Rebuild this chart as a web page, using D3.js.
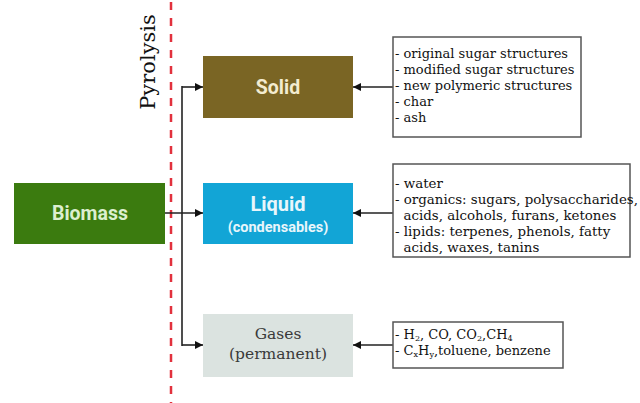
<!DOCTYPE html>
<html>
<head>
<meta charset="utf-8">
<script src="https://cdn.jsdelivr.net/npm/d3@7"></script>
<style>
  html, body { margin: 0; padding: 0; background: #fff; }
  svg { display: block; }
</style>
</head>
<body>
<div id="chart"></div>
<script>
// phases coming out of pyrolysis
var phases = ['Solid', 'Liquid', 'Gases'];
var phaseSubLabels = ['', '(condensables)', '(permanent)'];
var phaseColors = ['#7a6524', '#12a5d6', '#dbe3e0'];
var phaseTextColors = ['#f3ecd0', '#e8f6fb', '#3a3a3a'];

// product lists for each phase
var solidItems = ['- original sugar structures', '- modified sugar structures', '- new polymeric structures', '- char', '- ash'];
var liquidItems = ['- water', '- organics: sugars, polysaccharides,', '  acids, alcohols, furans, ketones', '- lipids: terpenes, phenols, fatty', '  acids, waxes, tanins'];
var gasItems = ['- H|2|, CO, CO|2|,CH|4|', '- C|x|H|y|,toluene, benzene'];

var sourceLabel = 'Biomass';
var processLabel = 'Pyrolysis';

var width = 640, height = 403;

var svg = d3.select('#chart').append('svg')
  .attr('width', width)
  .attr('height', height);

var defs = svg.append('defs');
defs.append('marker')
  .attr('id', 'arrow')
  .attr('viewBox', '0 0 10 10')
  .attr('refX', 10).attr('refY', 5)
  .attr('markerWidth', 9).attr('markerHeight', 8)
  .attr('markerUnits', 'userSpaceOnUse')
  .attr('orient', 'auto')
  .append('path')
  .attr('d', 'M0,0 L10,5 L0,10 Z')
  .attr('fill', '#111');

// layout (hardcoded from the drawing)
var boxX = 203, boxW = 150;
var phaseBoxes = [
  { y: 56, h: 62, arrowY: 87 },
  { y: 183, h: 61, arrowY: 213 },
  { y: 314, h: 63, arrowY: 345 }
];
var listBoxes = [
  { x: 393, y: 37, w: 188, h: 100, items: solidItems, firstLine: 58, size: 13 },
  { x: 393, y: 164, w: 237, h: 93, items: liquidItems, firstLine: 188, size: 13.4 },
  { x: 393, y: 322, w: 170, h: 46, items: gasItems, firstLine: 339, size: 13 }
];
var lineGap = 16;
var connectorX = 182;
var dashX = 171;

// pyrolysis dashed line
svg.append('line')
  .attr('x1', dashX).attr('x2', dashX)
  .attr('y1', 2).attr('y2', height)
  .attr('stroke', '#e2313d')
  .attr('stroke-width', 2.5)
  .attr('stroke-dasharray', '8,8');

svg.append('text')
  .attr('transform', 'translate(155,62) rotate(-90)')
  .attr('text-anchor', 'middle')
  .attr('font-family', 'DejaVu Serif')
  .attr('font-size', 21)
  .attr('fill', '#111')
  .text(processLabel);

// biomass box
svg.append('rect')
  .attr('x', 14).attr('y', 183)
  .attr('width', 151).attr('height', 61)
  .attr('fill', '#3b7b0f');
svg.append('text')
  .attr('x', 90).attr('y', 220)
  .attr('text-anchor', 'middle')
  .attr('font-family', 'Roboto, sans-serif')
  .attr('font-weight', 'bold')
  .attr('font-size', 19.5)
  .attr('fill', '#dcefcf')
  .text(sourceLabel);

// vertical connector
svg.append('line')
  .attr('x1', connectorX).attr('x2', connectorX)
  .attr('y1', phaseBoxes[0].arrowY - 1).attr('y2', phaseBoxes[2].arrowY + 1)
  .attr('stroke', '#222').attr('stroke-width', 1.6);

// biomass -> liquid
svg.append('line')
  .attr('x1', 165).attr('x2', boxX)
  .attr('y1', phaseBoxes[1].arrowY).attr('y2', phaseBoxes[1].arrowY)
  .attr('stroke', '#222').attr('stroke-width', 1.6)
  .attr('marker-end', 'url(#arrow)');

// connector -> solid, gases
[0, 2].forEach(function (i) {
  svg.append('line')
    .attr('x1', connectorX).attr('x2', boxX)
    .attr('y1', phaseBoxes[i].arrowY).attr('y2', phaseBoxes[i].arrowY)
    .attr('stroke', '#222').attr('stroke-width', 1.6)
    .attr('marker-end', 'url(#arrow)');
});

// phase boxes
var phaseG = svg.selectAll('g.phase')
  .data(phases)
  .enter()
  .append('g')
  .attr('class', 'phase');

phaseG.append('rect')
  .attr('x', boxX)
  .attr('y', function (d, i) { return phaseBoxes[i].y; })
  .attr('width', boxW)
  .attr('height', function (d, i) { return phaseBoxes[i].h; })
  .attr('fill', function (d, i) { return phaseColors[i]; });

phaseG.each(function (d, i) {
  var g = d3.select(this);
  var b = phaseBoxes[i];
  var cx = boxX + boxW / 2;
  if (i === 2) {
    // serif labels on the gas box
    g.append('text')
      .attr('x', cx).attr('y', b.y + 25)
      .attr('text-anchor', 'middle')
      .attr('font-family', 'DejaVu Serif')
      .attr('font-size', 15.5)
      .attr('fill', phaseTextColors[i])
      .text(d);
    g.append('text')
      .attr('x', cx).attr('y', b.y + 45)
      .attr('text-anchor', 'middle')
      .attr('font-family', 'DejaVu Serif')
      .attr('font-size', 15.5)
      .attr('fill', phaseTextColors[i])
      .text(phaseSubLabels[i]);
  } else if (phaseSubLabels[i]) {
    g.append('text')
      .attr('x', cx).attr('y', b.y + 28)
      .attr('text-anchor', 'middle')
      .attr('font-family', 'Roboto, sans-serif')
      .attr('font-weight', 'bold')
      .attr('font-size', 20)
      .attr('fill', phaseTextColors[i])
      .text(d);
    g.append('text')
      .attr('x', cx).attr('y', b.y + 49)
      .attr('text-anchor', 'middle')
      .attr('font-family', 'Roboto, sans-serif')
      .attr('font-weight', 'bold')
      .attr('font-size', 14.5)
      .attr('fill', phaseTextColors[i])
      .text(phaseSubLabels[i]);
  } else {
    g.append('text')
      .attr('x', cx).attr('y', b.y + b.h / 2 + 7)
      .attr('text-anchor', 'middle')
      .attr('font-family', 'Roboto, sans-serif')
      .attr('font-weight', 'bold')
      .attr('font-size', 19.5)
      .attr('fill', phaseTextColors[i])
      .text(d);
  }
});

// list boxes + arrows back into the phase boxes
listBoxes.forEach(function (lb, i) {
  svg.append('line')
    .attr('x1', lb.x).attr('x2', boxX + boxW)
    .attr('y1', phaseBoxes[i].arrowY).attr('y2', phaseBoxes[i].arrowY)
    .attr('stroke', '#222').attr('stroke-width', 1.6)
    .attr('marker-end', 'url(#arrow)');

  svg.append('rect')
    .attr('x', lb.x).attr('y', lb.y)
    .attr('width', lb.w).attr('height', lb.h)
    .attr('fill', '#fff')
    .attr('stroke', '#555')
    .attr('stroke-width', 1.5);

  var t = svg.selectAll(null)
    .data(lb.items)
    .enter()
    .append('text')
    .attr('x', lb.x + 2)
    .attr('y', function (d, j) { return lb.firstLine + j * lineGap; })
    .attr('font-family', 'DejaVu Serif')
    .attr('font-size', lb.size)
    .attr('fill', '#111')
    .attr('xml:space', 'preserve')
    .style('white-space', 'pre');

  // items use |x| to mark subscripts
  t.each(function (d) {
    var el = d3.select(this);
    d.split('|').forEach(function (part, k) {
      if (!part) return;
      if (k % 2 === 1) {
        el.append('tspan').attr('baseline-shift', '-30%').attr('font-size', lb.size * 0.62).text(part);
      } else {
        el.append('tspan').text(part);
      }
    });
  });
});
</script>
</body>
</html>
